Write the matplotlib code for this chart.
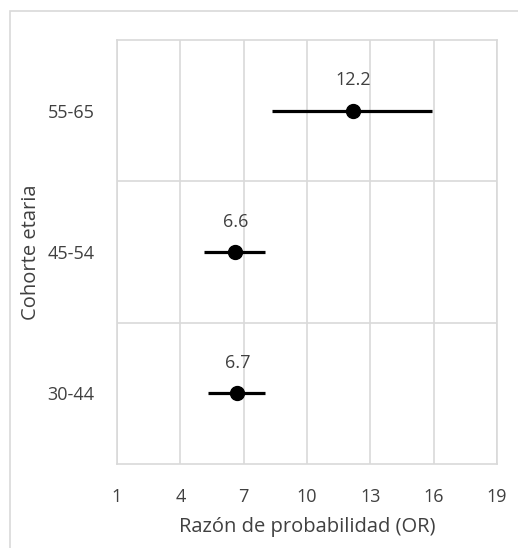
import matplotlib
matplotlib.use("Agg")
import matplotlib.pyplot as plt
from matplotlib.patches import Rectangle

# datos
cohortes = ["30-44", "45-54", "55-65"]
odds = [6.7, 6.6, 12.2]
ic_bajo = [5.3, 5.1, 8.35]
ic_alto = [8.0, 8.0, 15.9]
xticks = [1, 4, 7, 10, 13, 16, 19]

plt.rcParams["font.family"] = ["Open Sans", "DejaVu Sans"]
TXT = "#404040"
GRID = "#d9d9d9"

fig = plt.figure(figsize=(5.18, 5.48), dpi=100)
# marco exterior del area del grafico
fig.patches.append(Rectangle((10 / 518, -0.1), 1.2, 1.1 - 11 / 548,
                             transform=fig.transFigure, fill=False,
                             ec=GRID, lw=1.2))
ax = fig.add_axes([117 / 518, 84 / 548, 380 / 518, 424 / 548])

ys = [i + 0.5 for i in range(len(cohortes))]
for y, o, lo, hi in zip(ys, odds, ic_bajo, ic_alto):
    ax.plot([lo, hi], [y, y], color="black", lw=2.3, solid_capstyle="butt", zorder=3)
    ax.plot(o, y, "o", color="black", ms=10, zorder=4)
    ax.text(o, y + 0.215, f"{o:.1f}", ha="center", va="center", fontsize=13, color=TXT)

ax.set_xlim(1, 19)
ax.set_ylim(0, 3)
ax.set_xticks(xticks)
ax.set_yticks(ys)
ax.set_yticklabels(cohortes)
ax.set_yticks([1, 2], minor=True)
ax.grid(True, axis="x", color=GRID, lw=1.2)
ax.grid(True, axis="y", which="minor", color=GRID, lw=1.2)
ax.tick_params(axis="both", length=0, labelsize=13, labelcolor=TXT)
ax.tick_params(axis="y", which="minor", length=0)
ax.tick_params(axis="x", pad=17)
ax.tick_params(axis="y", pad=16)
for s in ax.spines.values():
    s.set_color(GRID)
    s.set_linewidth(1.2)
ax.set_axisbelow(True)

ax.set_xlabel("Razón de probabilidad (OR)", fontsize=14.5, color=TXT, labelpad=8)
ax.set_ylabel("Cohorte etaria", fontsize=14.5, color=TXT, labelpad=5)

fig.savefig("out.png", dpi=100)
